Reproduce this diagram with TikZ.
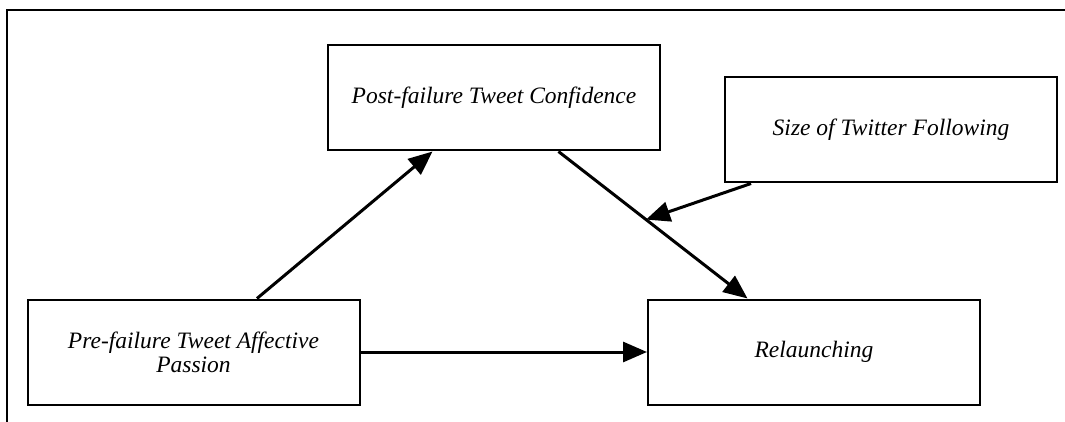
\documentclass[tikz,border=0pt]{standalone}
\usepackage{fontspec}
\setmainfont{Liberation Serif}
\usetikzlibrary{arrows.meta,calc}
\begin{document}
\begin{tikzpicture}[x=1pt,y=-1pt,
  box/.style={draw=black,line width=2pt,minimum width=332pt,minimum height=105pt,
    inner sep=0pt,align=center,font=\fontsize{23.5}{24}\selectfont\itshape},
  conn/.style={line width=3pt,-{Triangle[length=24pt,width=20pt]}}]
\useasboundingbox (0,0) rectangle (1065,422);
\fill[white] (0,0) rectangle (1065,422);
\draw[line width=2.5pt] (7,422) -- (7,10) -- (1066,10);
\node[box] (post) at (494,98) {\raisebox{5pt}{Post-failure Tweet Confidence}};
\node[box] (size) at (891,130) {\raisebox{5pt}{Size of Twitter Following}};
\node[box] (pre) at (193.5,352) {Pre-failure Tweet Affective\\Passion};
\node[box] (rel) at (814,352) {\raisebox{3pt}{Relaunching}};
\coordinate (a1) at ($(pre.north west)!0.69!(pre.north east)$);
\coordinate (a2) at ($(post.south west)!0.316!(post.south east)$);
\coordinate (b1) at ($(post.south west)!0.693!(post.south east)$);
\coordinate (b2) at ($(rel.north west)!0.301!(rel.north east)$);
\coordinate (c1) at ($(size.south west)!0.081!(size.south east)$);
\coordinate (m) at ($(b1)!0.463!(b2)$);
\draw[conn] (a1) -- (a2);
\draw[conn] (b1) -- (b2);
\draw[conn] (c1) -- (m);
\draw[conn] (pre.east) -- (rel.west);
\end{tikzpicture}
\end{document}
